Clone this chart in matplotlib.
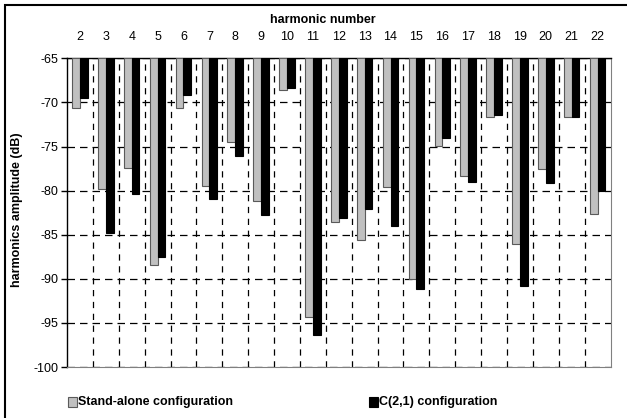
import matplotlib
matplotlib.use('Agg')
import matplotlib.pyplot as plt
from matplotlib.patches import Rectangle
import numpy as np

plt.rcParams['font.family'] = ['Liberation Sans', 'DejaVu Sans']

# ── data (dB) ──
harmonics = list(range(2, 23))
stand_alone = [-70.6, -79.8, -77.4, -88.4, -70.6, -79.5, -74.5, -81.2, -68.6, -94.3,
               -83.6, -85.6, -79.6, -90.0, -74.9, -78.4, -71.7, -86.0, -77.6, -71.7, -82.7]
c21_config = [-69.5, -84.8, -80.4, -87.5, -69.2, -81.0, -76.1, -82.8, -68.4, -96.4,
              -83.1, -82.1, -84.0, -91.2, -74.0, -79.0, -71.4, -90.8, -79.1, -71.7, -80.0]
y_ticks = [-65, -70, -75, -80, -85, -90, -95, -100]
base = -65

FS = 9
W, H = 627, 418
fig = plt.figure(figsize=(W / 100, H / 100), dpi=100, facecolor='white')
ax = fig.add_axes([67 / W, 1 - 367 / H, (610.5 - 67) / W, (367 - 58.3) / H])

x = np.array(harmonics, dtype=float)
bw = 0.3
sa = np.array(stand_alone)
cc = np.array(c21_config)
ax.bar(x - bw / 2, sa - base, bottom=base, width=bw, color='#c0c0c0',
       edgecolor='#5a5a5a', linewidth=0.8, zorder=3)
ax.bar(x + bw / 2, cc - base, bottom=base, width=bw, color='black',
       edgecolor='black', linewidth=0.8, zorder=3)

ax.set_xlim(x[0] - 0.5, x[-1] + 0.5)
ax.set_ylim(-100, -65)

# x axis on top
ax.xaxis.tick_top()
ax.set_xticks(x)
ax.set_xticklabels([str(h) for h in harmonics], fontsize=FS)
ax.tick_params(axis='x', which='major', length=0, pad=11)
ax.set_xticks(np.arange(x[0] + 0.5, x[-1], 1.0), minor=True)
ax.tick_params(axis='x', which='minor', length=0)

ax.set_yticks(y_ticks)
ax.set_yticklabels([str(t) for t in y_ticks], fontsize=FS)
ax.tick_params(axis='y', length=4, width=1, pad=2, direction='out')

# dashed grid
ax.grid(axis='y', which='major', color='black', linestyle=(0, (6, 4)), linewidth=0.9, zorder=1)
ax.grid(axis='x', which='minor', color='black', linestyle=(0, (5, 4.5)), linewidth=0.9, zorder=1)
ax.grid(axis='x', which='major', visible=False)
ax.set_axisbelow(True)

ax.spines['left'].set_color('black')
ax.spines['top'].set_color('black')
ax.spines['left'].set_linewidth(1.0)
ax.spines['top'].set_linewidth(1.0)
ax.spines['right'].set_color('#808080')
ax.spines['bottom'].set_color('#808080')

fig.text(323 / W, 1 - 20 / H, 'harmonic number', fontsize=FS, fontweight='bold',
         ha='center', va='center')
fig.text(17 / W, 1 - 210 / H, 'harmonics amplitude (dB)', fontsize=FS, fontweight='bold',
         ha='center', va='center', rotation=90)

# legend
sq = 9.5
for lx, col, ec, label in [(67.5, '#c0c0c0', '#5a5a5a', 'Stand-alone configuration'),
                           (368.5, 'black', 'black', 'C(2,1) configuration')]:
    fig.patches.append(Rectangle((lx / W, 1 - (402 + sq / 2) / H), sq / W, sq / H,
                                 transform=fig.transFigure, facecolor=col,
                                 edgecolor=ec, linewidth=0.8))
    fig.text((lx + sq + 1) / W, 1 - 402 / H, label, fontsize=FS, fontweight='bold',
             ha='left', va='center')

# outer frame (only left/top visible in the crop)
fig.patches.append(Rectangle((5 / W, -0.1), 1.2, 1.1 - 5 / H,
                             transform=fig.transFigure, fill=False,
                             edgecolor='black', linewidth=1.5))

fig.savefig('out.png', dpi=100, facecolor='white')
